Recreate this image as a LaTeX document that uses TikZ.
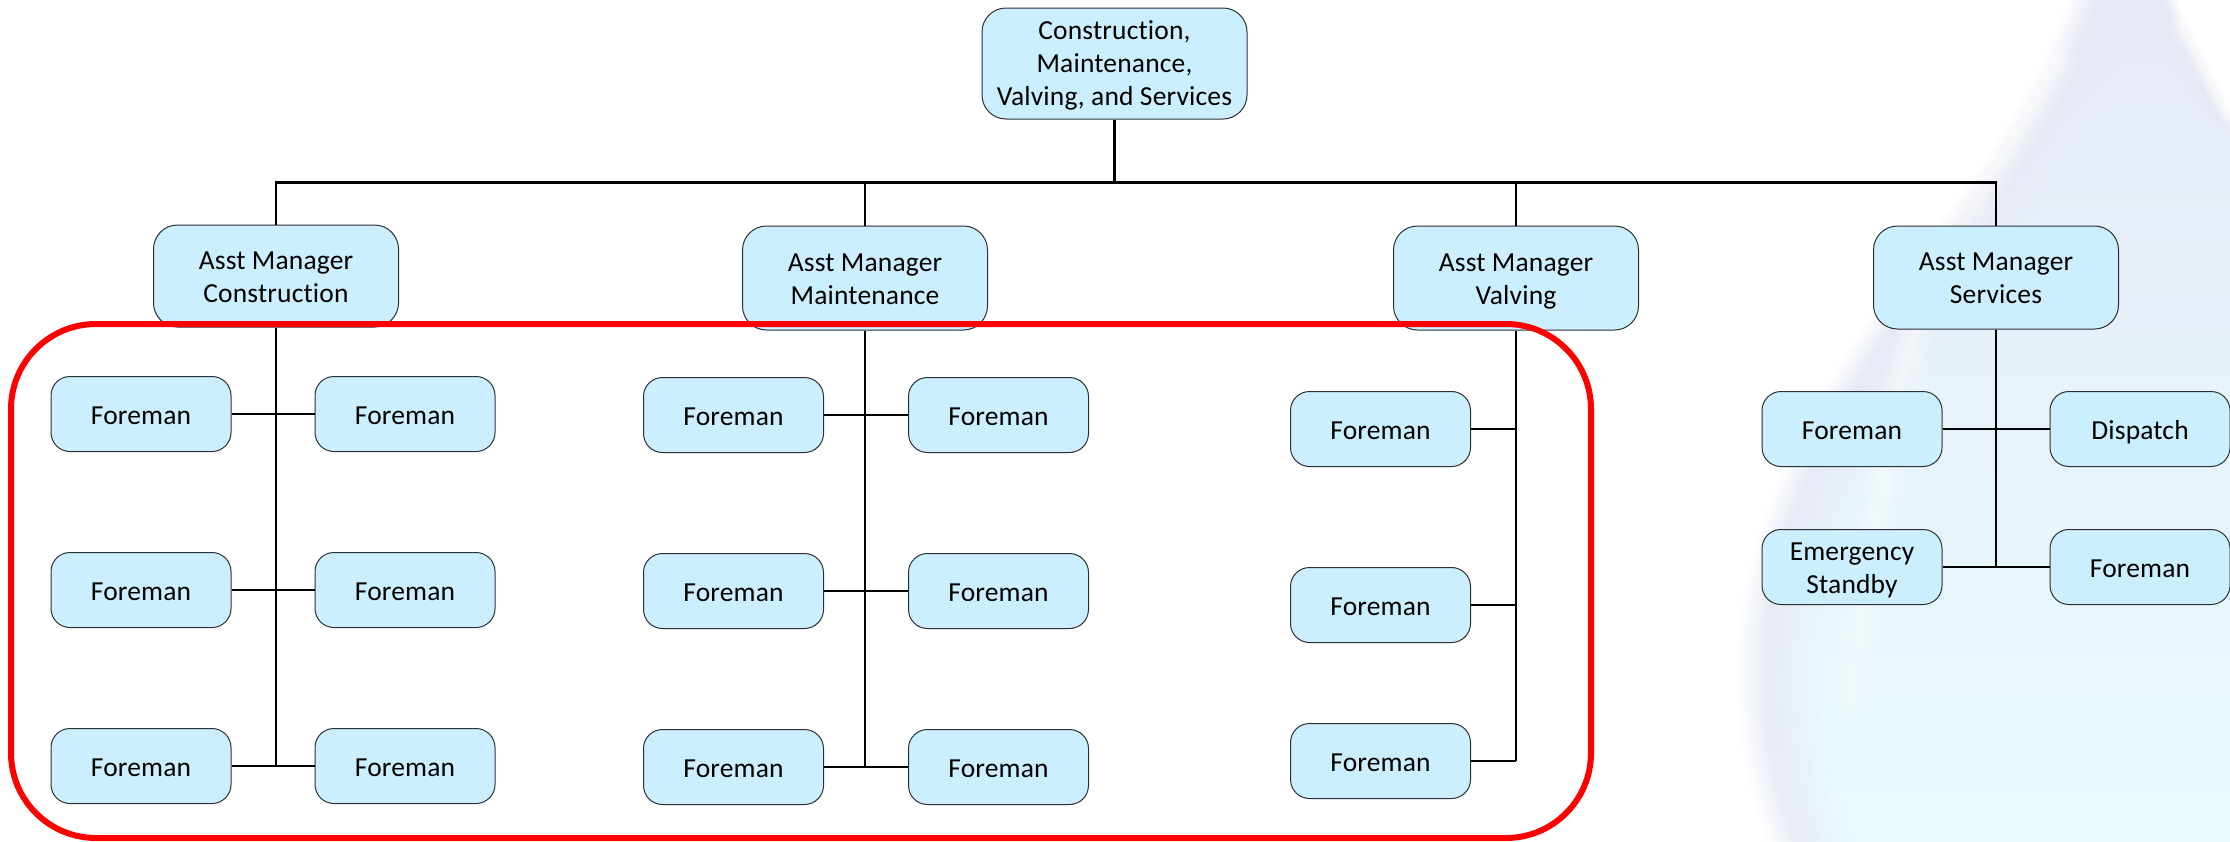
\documentclass[tikz,border=0pt]{standalone}
\usepackage{fontspec}
\setmainfont{Carlito}[Ligatures=NoCommon,LetterSpace=0.6]
\usetikzlibrary{calc}
\definecolor{boxfill}{HTML}{CCEFFF}
\definecolor{boxline}{HTML}{2B3038}
\definecolor{lavtop}{HTML}{E6E9F4}
\definecolor{lavmid}{HTML}{E7EBF5}
\definecolor{lavbot}{HTML}{E9EDF6}
\definecolor{intmid}{HTML}{E8F1FA}
\definecolor{intbot}{HTML}{E8FCFE}
\newcommand{\boxtext}[2]{\raisebox{#1}[0pt][0pt]{\begin{tabular}[t]{@{}c@{}}#2\end{tabular}}}
\newcommand{\oneline}[1]{\boxtext{-10pt}{#1}}
\newcommand{\twolines}[1]{\boxtext{7pt}{#1}}
\newcommand{\threelines}[1]{\boxtext{24.2pt}{#1}}
\tikzset{
  orgbox/.style={draw=boxline,line width=1pt,fill=boxfill,rounded corners=#1,
    font=\fontsize{27.5}{33}\selectfont,text=black,inner sep=0pt,anchor=center},
  orgbox/.default=20pt,
  big/.style={orgbox=24pt},
  small/.style={orgbox=19pt,minimum width=180pt,minimum height=75pt},
  conn/.style={draw=black,line width=2.4pt},
  redframe/.style={draw=red,line width=6pt,rounded corners=85pt},
}
% droplet outline: #1 moves the left edge inward, the right edge follows at half the rate
\newcommand{\dropshape}[1]{({2072+#1},-10) .. controls ({2045+#1},70) and ({1990+#1},160) .. ({1936+#1},227)
   .. controls ({1860+#1},330) and ({1737+#1},490) .. ({1737+#1},670)
   .. controls ({1737+#1},740) and ({1750+#1},800) .. ({1775+#1},860) -- (2260,860) -- (2260,160)
   -- ({2230-0.5*#1},110) -- ({2172-0.5*#1},-10) -- cycle}
\begin{document}
\begin{tikzpicture}[x=1pt,y=-1pt]
\useasboundingbox (0,0) rectangle (2230,841);
\fill[white] (0,0) rectangle (2230,841);
% watermark droplet
\begin{scope}
  \clip (0,0) rectangle (2230,841);
  \foreach \i in {0,...,9}{
    \pgfmathsetmacro{\pc}{(\i+1)*10}
    \pgfmathsetmacro{\sh}{\i*3}
    \shade[top color=lavtop!\pc!white,middle color=lavmid!\pc!white,bottom color=lavbot!\pc!white] \dropshape{\sh};
  }
  \foreach \i in {0,...,9}{
    \pgfmathsetmacro{\pc}{(\i+1)*10}
    \pgfmathsetmacro{\sh}{40+\i*5}
    \shade[top color=lavtop,middle color=intmid!\pc!lavmid,bottom color=intbot!\pc!lavbot] \dropshape{\sh};
  }
  \foreach \w in {36,28,20,12,6}{
    \draw[white,opacity=0.13,line width=\w pt,line cap=round]
      (2060,60) .. controls (2030,115) and (1990,180) .. (1950,250)
      .. controls (1900,340) and (1890,440) .. (1880,500) .. controls (1870,580) and (1856,630) .. (1852,700);
    \draw[white,opacity=0.13,line width=0.6*\w pt,line cap=round] (2180,25) -- (2236,125);
  }
\end{scope}
% nodes
\node[orgbox=24pt,minimum width=265pt,minimum height=111pt] (top) at (1114.5,63.5) {\threelines{Construction,\\Maintenance,\\Valving, and Services}};
\node[big,minimum width=245pt,minimum height=102pt] (amc) at (276,276) {\twolines{Asst Manager\\Construction}};
\node[big,minimum width=245pt,minimum height=104pt] (amm) at (865,278) {\twolines{Asst Manager\\Maintenance}};
\node[big,minimum width=245pt,minimum height=104pt] (amv) at (1516,278) {\twolines{Asst Manager\\Valving}};
\node[big,minimum width=245pt,minimum height=103pt] (ams) at (1996,277.5) {\twolines{Asst Manager\\Services}};
\node[small] (c1) at (141,414) {\oneline{Foreman}};
\node[small] (c2) at (405,414) {\oneline{Foreman}};
\node[small] (c3) at (141,590) {\oneline{Foreman}};
\node[small] (c4) at (405,590) {\oneline{Foreman}};
\node[small] (c5) at (141,766) {\oneline{Foreman}};
\node[small] (c6) at (405,766) {\oneline{Foreman}};
\node[small] (m1) at (733.5,415) {\oneline{Foreman}};
\node[small] (m2) at (998.5,415) {\oneline{Foreman}};
\node[small] (m3) at (733.5,591) {\oneline{Foreman}};
\node[small] (m4) at (998.5,591) {\oneline{Foreman}};
\node[small] (m5) at (733.5,767) {\oneline{Foreman}};
\node[small] (m6) at (998.5,767) {\oneline{Foreman}};
\node[small] (v1) at (1380.5,429) {\oneline{Foreman}};
\node[small] (v2) at (1380.5,605) {\oneline{Foreman}};
\node[small] (v3) at (1380.5,761) {\oneline{Foreman}};
\node[small] (s1) at (1852,429) {\oneline{Foreman}};
\node[small] (s2) at (2140,429) {\oneline{Dispatch}};
\node[small] (s3) at (1852,567) {\twolines{Emergency\\Standby}};
\node[small] (s4) at (2140,567) {\oneline{Foreman}};
% connectors
\coordinate (bus) at ($(top.south)+(0,63)$);
\draw[conn] (top.south) -- (bus);
\draw[conn] (amc.north) -- (amc.north |- bus) -- (ams.north |- bus) -- (ams.north);
\draw[conn] (amm.north) -- (amm.north |- bus);
\draw[conn] (amv.north) -- (amv.north |- bus);
\draw[conn] (amc.south) -- (amc.south |- c5.east);
\draw[conn] (amm.south) -- (amm.south |- m5.east);
\draw[conn] (amv.south) -- (amv.south |- v3.east);
\draw[conn] (ams.south) -- (ams.south |- s3.east);
\draw[conn] (c1.east) -- (c2.west);
\draw[conn] (c3.east) -- (c4.west);
\draw[conn] (c5.east) -- (c6.west);
\draw[conn] (m1.east) -- (m2.west);
\draw[conn] (m3.east) -- (m4.west);
\draw[conn] (m5.east) -- (m6.west);
\draw[conn] (v1.east) -- (amv.south |- v1.east);
\draw[conn] (v2.east) -- (amv.south |- v2.east);
\draw[conn] (v3.east) -- (amv.south |- v3.east);
\draw[conn] (s1.east) -- (s2.west);
\draw[conn] (s3.east) -- (s4.west);
% red frame, over the boxes and connectors
\draw[redframe] (11,324) rectangle (1591,838);
\end{tikzpicture}
\end{document}
